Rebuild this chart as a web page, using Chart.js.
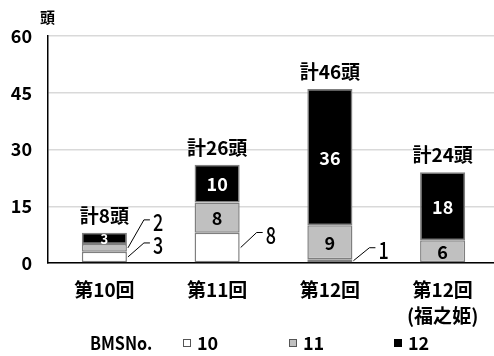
<!DOCTYPE html>
<html>
<head>
<meta charset="utf-8">
<script src="https://cdn.jsdelivr.net/npm/chart.js@4.4.1/dist/chart.umd.min.js"></script>
<style>
  html, body { margin: 0; padding: 0; background: #fff; overflow: hidden; }
  #wrap { position: absolute; left: 0; top: 0; width: 499px; height: 356px; }
</style>
</head>
<body>
<div id="wrap"><canvas id="chart"></canvas></div>
<script>
// 回ごとの出品頭数（BMSNo.別）
const categories = [["第10回"], ["第11回"], ["第12回"], ["第12回", "(福之姫)"]];
const bms10 = [3, 8, 1, 0];
const bms11 = [2, 8, 9, 6];
const bms12 = [3, 10, 36, 18];
const seriesNames = ["10", "11", "12"];
const yTicks = [0, 15, 30, 45, 60];

const FONT = "'Noto Sans CJK JP', 'Noto Sans', sans-serif";

// 小さい区分は引き出し線で外に表示（dsIndex-barIndex: 上方向のずれ）
const callouts = {
  "1-0": -28,
  "0-0": -14,
  "0-1": -15,
  "0-2": -13,
};

// 横方向に詰めて文字を描く
function narrowText(ctx, text, x, y, sx) {
  ctx.save();
  ctx.translate(x, y);
  ctx.scale(sx, 1);
  ctx.fillText(text, 0, 0);
  ctx.restore();
}

const labelPlugin = {
  id: "segmentLabels",
  afterDatasetsDraw(chart) {
    const ctx = chart.ctx;
    ctx.save();
    const totals = categories.map((_, i) =>
      chart.data.datasets.reduce((s, ds) => s + ds.data[i], 0)
    );

    chart.data.datasets.forEach((ds, di) => {
      const meta = chart.getDatasetMeta(di);
      meta.data.forEach((bar, i) => {
        const v = ds.data[i];
        if (!v) return;
        const midY = (bar.y + bar.base) / 2;
        const key = di + "-" + i;
        if (key in callouts) {
          const x0 = bar.x + bar.width / 2 + 1;
          const y1 = midY + callouts[key];
          ctx.strokeStyle = "#000";
          ctx.lineWidth = 1;
          ctx.beginPath();
          ctx.moveTo(x0, midY);
          ctx.lineTo(x0 + 16, y1);
          ctx.lineTo(x0 + 22, y1);
          ctx.stroke();
          ctx.fillStyle = "#000";
          ctx.font = "500 24px " + FONT;
          ctx.textAlign = "left";
          ctx.textBaseline = "middle";
          narrowText(ctx, String(v), x0 + 25, y1 + 2, 0.75);
        } else {
          const small = Math.abs(bar.base - bar.y) < 14;
          ctx.fillStyle = di === 2 ? "#fff" : "#000";
          ctx.font = (small ? "bold 13px " : "bold 18px ") + FONT;
          ctx.textAlign = "center";
          ctx.textBaseline = "middle";
          ctx.fillText(String(v), bar.x, midY + 1);
        }
      });
    });

    // 合計
    const topMeta = chart.getDatasetMeta(2);
    topMeta.data.forEach((bar, i) => {
      ctx.fillStyle = "#000";
      ctx.font = "bold 19px " + FONT;
      ctx.textAlign = "center";
      ctx.textBaseline = "middle";
      ctx.fillText("計" + totals[i] + "頭", bar.x, bar.y - 17);
    });
    ctx.restore();
  },
  afterDraw(chart) {
    const ctx = chart.ctx;
    ctx.save();
    // 単位
    ctx.fillStyle = "#000";
    ctx.font = "bold 15px " + FONT;
    ctx.textAlign = "left";
    ctx.textBaseline = "middle";
    ctx.fillText("頭", 40, 17);

    // 凡例
    const ly = 343;
    ctx.font = "bold 18px " + FONT;
    narrowText(ctx, "BMSNo.", 90, ly, 0.9);
    const lx = [183, 289, 394];
    chart.data.datasets.forEach((ds, di) => {
      ctx.fillStyle = ds.backgroundColor;
      ctx.fillRect(lx[di], ly - 4, 8, 8);
      ctx.strokeStyle = di === 2 ? "#000" : "#555";
      ctx.lineWidth = 1;
      ctx.strokeRect(lx[di] + 0.5, ly - 3.5, 7, 7);
      ctx.fillStyle = "#000";
      ctx.fillText(ds.label, lx[di] + 14, ly);
    });
    ctx.restore();
  },
};

const barStyle = {
  borderColor: "#7f7f7f",
  borderWidth: 1.5,
  borderSkipped: false,
  barPercentage: 0.4,
  categoryPercentage: 1,
};

new Chart(document.getElementById("chart"), {
  type: "bar",
  data: {
    labels: categories,
    datasets: [
      { label: seriesNames[0], data: bms10, backgroundColor: "#ffffff", ...barStyle },
      { label: seriesNames[1], data: bms11, backgroundColor: "#c0c0c0", ...barStyle },
      { label: seriesNames[2], data: bms12, backgroundColor: "#000000", ...barStyle },
    ],
  },
  options: {
    responsive: true,
    maintainAspectRatio: false,
    animation: false,
    layout: { padding: { top: 36, left: 0, right: 0, bottom: 0 } },
    plugins: {
      legend: { display: false },
      tooltip: { enabled: false },
    },
    scales: {
      x: {
        stacked: true,
        grid: { display: false, drawTicks: false },
        border: { display: true, color: "#000", width: 1.5 },
        ticks: {
          color: "#000",
          padding: 14,
          font: { family: FONT, size: 19, weight: "bold", lineHeight: 1.35 },
          maxRotation: 0,
          autoSkip: false,
        },
        afterFit(scale) { scale.height = 93; },
      },
      y: {
        stacked: true,
        min: 0,
        max: 60,
        afterBuildTicks(scale) { scale.ticks = yTicks.map(v => ({ value: v })); },
        grid: { color: "#d9d9d9", lineWidth: 1.5, drawTicks: false },
        border: { display: true, color: "#000", width: 1.5 },
        ticks: {
          color: "#000",
          padding: 16,
          font: { family: FONT, size: 18, weight: "bold" },
        },
        afterFit(scale) { scale.width = 48; },
      },
    },
  },
  plugins: [labelPlugin],
});
</script>
</body>
</html>
